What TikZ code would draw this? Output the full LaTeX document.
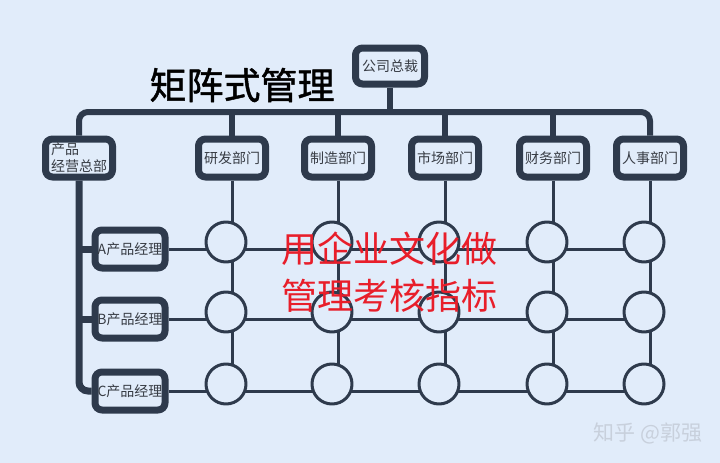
\documentclass[tikz,border=0pt]{standalone}
\usepackage{fontspec}
\setmainfont{Noto Sans CJK SC}
\newfontfamily\titlefont{Noto Sans CJK SC}[FakeBold=1.3]
\usetikzlibrary{calc}
\definecolor{bgc}{RGB}{225,236,250}
\definecolor{linec}{RGB}{46,58,76}
\definecolor{txtc}{RGB}{55,60,68}
\definecolor{redc}{RGB}{232,30,42}
\definecolor{markc}{RGB}{200,208,220}
\pgfdeclarelayer{back}
\pgfdeclarelayer{mid}
\pgfsetlayers{back,mid,main}
\begin{document}
\begin{tikzpicture}[x=1pt,y=-1pt,line join=round,line cap=round,
	box/.style={draw=linec,line width=7pt,rounded corners=7pt,fill=bgc,text=txtc,font=\fontsize{14}{17}\selectfont,minimum width=67pt,minimum height=38pt,inner sep=0pt},
	bus/.style={draw=linec,line width=6pt,rounded corners=9pt},
	grid/.style={draw=linec,line width=3pt},
	cell/.style={circle,draw=linec,line width=3pt,fill=bgc,minimum size=40pt,inner sep=0pt}]
	\begin{pgfonlayer}{back}
	\fill[bgc] (0,0) rectangle (720,463);
	\end{pgfonlayer}
	\useasboundingbox (0,0) rectangle (720,463);
	\node[box,minimum width=69pt,minimum height=36pt] (ceo) at (390,66) {公司总裁};
	\node[box,align=left] (hq) at (79,158) {产品\\经营总部};
	\foreach \n/\x/\t in {rd/232/研发部门,mf/338/制造部门,mk/445/市场部门,fn/553/财务部门,hr/650/人事部门}
	\node[box] (\n) at (\x,158) {\t};
	\foreach \r/\y/\t in {pa/249/A,pb/319/B,pc/391/C}
	\node[box,minimum width=70pt] (\r) at (130,\y) {\t 产品经理};
	\coordinate (busy) at (0,112);
	\begin{pgfonlayer}{mid}
	\draw[bus] (hq.north) |- (hr.north |- busy) -- (hr.north);
	\draw[bus] (ceo.south) -- (ceo.south |- busy);
	\foreach \n in {rd,mf,mk,fn}
	\draw[bus] (\n.north) -- (\n.north |- busy);
	\draw[bus,line width=7pt] (hq.south) |- (pc.west);
	\draw[bus,line width=7pt] (hq.south |- pa.west) -- (pa.west) (hq.south |- pb.west) -- (pb.west);
	\foreach \r in {pa,pb,pc}
	\draw[grid] (\r.east) -- (\r.east -| hr);
	\foreach \n in {rd,mf,mk,fn,hr}
	\draw[grid] (\n.south) -- (\n |- pc);
	\end{pgfonlayer}
	\foreach \n in {rd,mf,mk,fn,hr}
	\foreach \r in {pa,pb,pc}
	\node[cell] (\r\n) at ($(\n |- \r)+(-6,-7)$) {};
	\node[font=\titlefont\fontsize{37}{40}\selectfont] (title) at (242,85) {矩阵式管理};
	\node[text=redc,font=\fontsize{36}{47}\selectfont,align=center] (goal) at (389,272) {用企业文化做\\管理考核指标};
	\node[text=markc,font=\fontsize{21}{24}\selectfont,anchor=east] (mark) at (706,433) {知乎 @郭强};
\end{tikzpicture}
\end{document}
